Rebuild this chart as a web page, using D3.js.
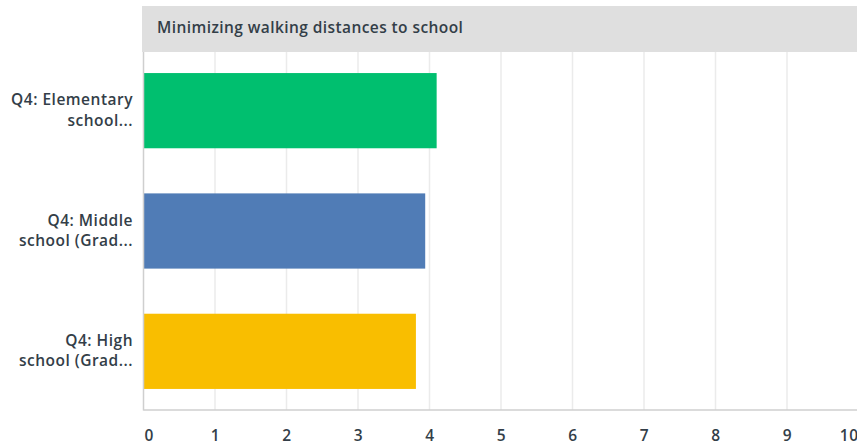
<!DOCTYPE html>
<html><head><meta charset="utf-8">
<script src="https://cdn.jsdelivr.net/npm/d3@7"></script>
<style>body{margin:0;background:#fff;} svg{display:block;font-family:"Open Sans","Noto Sans",sans-serif;}</style>
</head><body>
<svg id="c" width="857" height="447"></svg>
<script>
const title = "Minimizing walking distances to school";
const categories = [["Q4: Elementary","school..."],["Q4: Middle","school (Grad..."],["Q4: High","school (Grad..."]];
const values = [4.10, 3.94, 3.81];
const colors = ["#00bf6f","#507cb6","#f9be00"];
const ticks = [0,1,2,3,4,5,6,7,8,9,10];

(function(){
const svg = d3.select("#c");
const pL = 143.5, pR = 858.5, pT = 52, pB = 410;
const x = d3.scaleLinear().domain([0,10]).range([pL,pR]);
const y = d3.scaleBand().domain(d3.range(categories.length)).range([pT,pB]).paddingInner(0.375).paddingOuter(0.175);

// header
svg.append("rect").attr("x",142).attr("y",6).attr("width",857-142).attr("height",46).attr("fill","#dfdfdf");
svg.append("text").attr("x",157).attr("y",33).attr("font-size",15.5).attr("letter-spacing",0.42).attr("font-weight",600).attr("fill","#333e48").text(title);

// grid
svg.append("g").selectAll("line").data(ticks.slice(1)).join("line")
  .attr("x1",d=>x(d)).attr("x2",d=>x(d)).attr("y1",pT).attr("y2",pB)
  .attr("stroke","#ebebeb").attr("stroke-width",1.5);

// bars
svg.append("g").selectAll("rect").data(values).join("rect")
  .attr("x",x(0)).attr("y",(d,i)=>y(i)).attr("width",d=>x(d)-x(0)).attr("height",y.bandwidth())
  .attr("fill",(d,i)=>colors[i]);

// axes lines
svg.append("line").attr("x1",pL).attr("x2",pL).attr("y1",pT).attr("y2",pB+0.5).attr("stroke","#cfcfcf").attr("stroke-width",1.5);
svg.append("line").attr("x1",pL).attr("x2",857).attr("y1",pB).attr("y2",pB).attr("stroke","#cfcfcf").attr("stroke-width",1.5);

// x tick labels
const xAxis = d3.axisBottom(x).tickValues(ticks).tickSize(0).tickPadding(0);
const gx = svg.append("g").attr("transform",`translate(0,${pB})`).call(xAxis);
gx.select(".domain").remove();
gx.selectAll("text").attr("y",31).attr("dy",0).attr("font-size",15.5).attr("font-weight",600)
  .attr("letter-spacing",0.5)
  .attr("fill","#333e48").attr("font-family","'Open Sans','Noto Sans',sans-serif")
  .attr("text-anchor",d=>d===0?"start":(d===10?"end":"middle"))
  .attr("dx",d=>d===0?0.5:(d===10?-0.5:0));

// category labels
const gy = svg.append("g").selectAll("text").data(categories).join("text")
  .attr("text-anchor","end").attr("font-size",15.5).attr("letter-spacing",0.5).attr("font-weight",600).attr("fill","#333e48");
gy.each(function(lines,i){
  const c = y(i)+y.bandwidth()/2;
  d3.select(this).selectAll("tspan").data(lines).join("tspan")
    .attr("x",133).attr("y",(d,j)=>c-5.5+j*20.5).text(d=>d);
});
})();
</script>
</body></html>
